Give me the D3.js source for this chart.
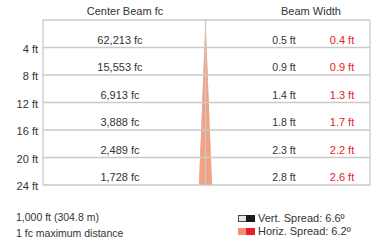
<!DOCTYPE html>
<html><head><meta charset="utf-8">
<script src="https://cdn.jsdelivr.net/npm/d3@7"></script>
<style>body{margin:0;background:#fff}svg{display:block}text{font-family:"Liberation Sans",Arial,sans-serif}</style>
</head><body>
<svg id="c" width="373" height="247"></svg>
<script>
const distances = [4, 8, 12, 16, 20, 24];
const distanceLabels = ["4 ft", "8 ft", "12 ft", "16 ft", "20 ft", "24 ft"];
const centerFc = [62213, 15553, 6913, 3888, 2489, 1728];
const vertWidth = [0.5, 0.9, 1.4, 1.8, 2.3, 2.8];
const horizWidth = [0.4, 0.9, 1.3, 1.7, 2.2, 2.6];
const vertSpread = 6.6, horizSpread = 6.2;
const maxDistanceFt = 1000, maxDistanceM = 304.8;

(function(){
const svg = d3.select("#c");
const L = 43, R = 370, T = 20, B = 185, cx = 205.5;
const y = d3.scaleLinear().domain([0, 24]).range([T, B]);
const xc = d3.scaleLinear().domain([-1.45, 1.45]).range([cx - 7, cx + 7]);
const grid = "#c9c9c9";

const rows = distances.map((d, i) => ({d, v: vertWidth[i], h: horizWidth[i]}));
const pts = [{d: 0, v: 0, h: 0}, ...rows];
const area = (key) => d3.area().x0(r => xc(-r[key] / 2)).x1(r => xc(r[key] / 2)).y(r => y(r.d));
svg.append("path").attr("d", area("v")(pts)).attr("fill", "#f6b49b");
svg.append("path").attr("d", area("h")(pts)).attr("fill", "#f4a184");

const g = svg.append("g").attr("stroke", grid).attr("stroke-width", 1.3).attr("fill", "none");
g.append("line").attr("x1", L).attr("x2", R).attr("y1", y(0)).attr("y2", y(0));
g.selectAll(".h").data(distances).join("line").attr("x1", L).attr("x2", R)
  .attr("y1", d => y(d)).attr("y2", d => y(d));
g.append("line").attr("x1", L).attr("x2", L).attr("y1", y(0)).attr("y2", y(24));
g.append("line").attr("x1", R).attr("x2", R).attr("y1", y(0)).attr("y2", y(24));
g.append("line").attr("x1", cx).attr("x2", cx).attr("y1", y(0)).attr("y2", y(24));

svg.append("text").attr("x", 125).attr("y", 15).attr("text-anchor", "middle")
  .attr("font-size", 11).attr("fill", "#333").text("Center Beam fc");
svg.append("text").attr("x", 311).attr("y", 15).attr("text-anchor", "middle")
  .attr("font-size", 11).attr("fill", "#333").text("Beam Width");

svg.selectAll(".yl").data(distances).join("text").attr("x", 38).attr("y", d => y(d) + 5)
  .attr("text-anchor", "end").attr("font-size", 11).attr("fill", "#333")
  .text((d, i) => distanceLabels[i]);

const fmt = d3.format(",");
svg.selectAll(".fc").data(rows).join("text").attr("x", 120).attr("y", r => y(r.d) - 4)
  .attr("text-anchor", "middle").attr("font-size", 11).attr("fill", "#333")
  .text((r, i) => fmt(centerFc[i]) + " fc");
svg.selectAll(".vw").data(rows).join("text").attr("x", 284).attr("y", r => y(r.d) - 4)
  .attr("text-anchor", "middle").attr("font-size", 10.5).attr("fill", "#333")
  .text(r => r.v.toFixed(1) + " ft");
svg.selectAll(".hw").data(rows).join("text").attr("x", 342).attr("y", r => y(r.d) - 4)
  .attr("text-anchor", "middle").attr("font-size", 11).attr("fill", "#e8202a")
  .text(r => r.h.toFixed(1) + " ft");

svg.append("text").attr("x", 16).attr("y", 221).attr("font-size", 10.5).attr("fill", "#333")
  .text(fmt(maxDistanceFt) + " ft (" + maxDistanceM + " m)");
svg.append("text").attr("x", 16).attr("y", 237).attr("font-size", 10.5).attr("fill", "#333")
  .text("1 fc maximum distance");

const lg = svg.append("g");
lg.append("rect").attr("x", 238.5).attr("y", 215.5).attr("width", 8).attr("height", 6).attr("fill", "#e6e6e6").attr("stroke", "#222").attr("stroke-width", 0.8);
lg.append("rect").attr("x", 246).attr("y", 215).attr("width", 9).attr("height", 7).attr("fill", "#1a1a1a");
lg.append("rect").attr("x", 238).attr("y", 228).attr("width", 8.5).attr("height", 7).attr("fill", "#f59077");
lg.append("rect").attr("x", 246).attr("y", 228).attr("width", 9).attr("height", 7).attr("fill", "#e8202a");
lg.append("text").attr("x", 258).attr("y", 222).attr("font-size", 11).attr("fill", "#333")
  .text("Vert. Spread: " + vertSpread + "º");
lg.append("text").attr("x", 258).attr("y", 235).attr("font-size", 11).attr("fill", "#333")
  .text("Horiz. Spread: " + horizSpread + "º");
})();
</script>
</body></html>
